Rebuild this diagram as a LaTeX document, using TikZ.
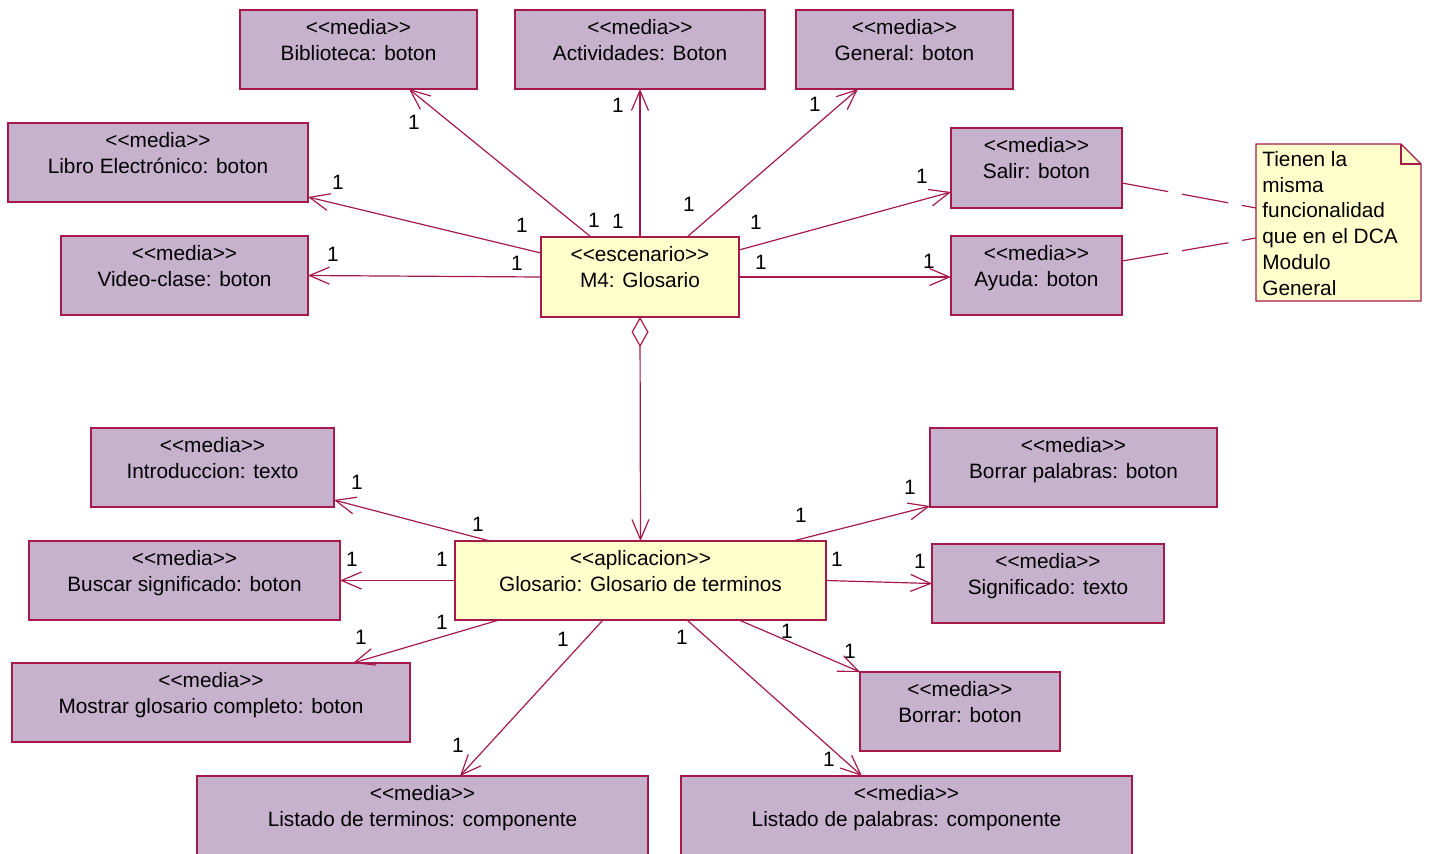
\documentclass[tikz,border=0pt]{standalone}
\usepackage{fontspec}
\setmainfont{Liberation Sans}
\usetikzlibrary{arrows.meta,calc}

\definecolor{mediafill}{RGB}{199,178,206}
\definecolor{edgecol}{RGB}{165,25,75}
\definecolor{yellowfill}{RGB}{255,255,204}

\tikzset{
  box/.style={draw=edgecol, line width=0.6pt, inner sep=0pt, outer sep=0pt},
  media/.style={box, fill=mediafill},
  scen/.style={box, fill=yellowfill},
  txt/.style={inner sep=0pt, font=\fontsize{10.4}{13}\selectfont, anchor=base},
  mult/.style={inner sep=0pt, font=\fontsize{10.4}{13}\selectfont},
  assoc/.style={draw=edgecol, line width=0.6pt, -{Straight Barb[length=10pt,width=8.5pt]}},
  aggr/.style={draw=edgecol, line width=0.6pt,
    {Diamond[open,length=15pt,width=8.5pt]}-{Straight Barb[length=10pt,width=8.5pt]}},
  notelink/.style={draw=edgecol, line width=0.6pt, dash pattern=on 23.5pt off 7pt},
}

% stereotype in angle brackets, kept apart so no guillemet ligature forms
\newcommand\stereo[1]{<\kern0pt<#1>\kern0pt>}

% class box: style, name, left, top, right, bottom, stereotype, title
\newcommand\umlclass[8]{%
  \node[#1, minimum width={(#5-#3)*0.5pt}, minimum height={(#6-#4)*0.5pt}]
    (#2) at ({(#3+#5)/2},{(#4+#6)/2}) {};
  \node[txt] (#2-s) at ($(#2.north)+(0,24.5)$) {\stereo{#7}};
  \node[txt] (#2-n) at ($(#2.north)+(0,50.5)$) {#8};
}

\begin{document}
\begin{tikzpicture}[x=0.5pt, y=-0.5pt]
\useasboundingbox (0,0) rectangle (1431,853);
\clip (0,0) rectangle (1431,853);

% upper group
\umlclass{media}{bib}{240}{10}{477}{89}{media}{Biblioteca: boton}
\umlclass{media}{act}{515}{10}{765}{89}{media}{Actividades: Boton}
\umlclass{media}{gen}{796}{10}{1013}{89}{media}{General: boton}
\umlclass{media}{lib}{8}{123}{308}{202}{media}{Libro Electrónico: boton}
\umlclass{media}{sal}{951}{128}{1122}{208}{media}{Salir: boton}
\umlclass{media}{vid}{61}{236}{308}{315}{media}{Video-clase: boton}
\umlclass{media}{ayu}{951}{236}{1122}{315}{media}{Ayuda: boton}
\umlclass{scen}{m4}{541}{237}{739}{317}{escenario}{M4: Glosario}

% lower group
\umlclass{media}{intro}{91}{428}{334}{507}{media}{Introduccion: texto}
\umlclass{media}{bpal}{930}{428}{1217}{507}{media}{Borrar palabras: boton}
\umlclass{media}{bus}{29}{541}{340}{620}{media}{Buscar significado: boton}
\umlclass{scen}{gl}{455}{541}{826}{620}{aplicacion}{Glosario: Glosario de terminos}
\umlclass{media}{sig}{932}{544}{1164}{623}{media}{Significado: texto}
\umlclass{media}{mos}{12}{663}{410}{742}{media}{Mostrar glosario completo: boton}
\umlclass{media}{bor}{860}{672}{1060}{751}{media}{Borrar: boton}
\umlclass{media}{lter}{197}{776}{648}{870}{media}{Listado de terminos: componente}
\umlclass{media}{lpal}{681}{776}{1132}{870}{media}{Listado de palabras: componente}

% note
\node[inner sep=0pt, outer sep=0pt, minimum width=82.5pt, minimum height=78.5pt]
  (note) at (1338.5,222.5) {};
\draw[box, fill=yellowfill] (note.north west) -- ($(note.north east)+(-20,0)$)
  -- ($(note.north east)+(0,20)$) -- (note.south east) -- (note.south west) -- cycle;
\draw[box] ($(note.north east)+(-20,0)$) -- ++(0,20) -- ++(20,0);
\node[anchor=base west, align=left, inner sep=0pt, font=\fontsize{10.4}{12.85}\selectfont]
  (notetext) at (1262,295) {Tienen la\\misma\\funcionalidad\\que en el DCA\\Modulo\\General};

% associations of the scenario
\draw[assoc] ($(m4.north west)+(50,0)$) -- ($(bib.south west)+(169,0)$);
\draw[assoc] (m4.north) -- (act.south);
\draw[assoc] ($(m4.north west)+(146,0)$) -- ($(gen.south west)+(62,0)$);
\draw[assoc] ($(m4.north west)+(0,16)$) -- ($(lib.south east)+(0,-5)$);
\draw[assoc] (m4.west) -- (vid.east);
\draw[assoc] ($(m4.north east)+(0,13)$) -- ($(sal.south west)+(0,-16)$);
\draw[assoc] (m4.east) -- (m4.east -| ayu.west);
\draw[aggr] (m4.south) -- (gl.north);

% associations of the application
\draw[assoc] ($(gl.north west)+(35,0)$) -- ($(intro.south east)+(0,-7)$);
\draw[assoc] ($(gl.north west)+(338,0)$) -- ($(bpal.south west)+(0,-1)$);
\draw[assoc] (gl.west) -- (bus.east);
\draw[assoc] (gl.east) -- (sig.west);
\draw[assoc] ($(gl.south west)+(44,0)$) -- ($(mos.north east)+(-57,0)$);
\draw[assoc] ($(gl.south west)+(148,0)$) -- ($(lter.north west)+(263,0)$);
\draw[assoc] ($(gl.south west)+(232,0)$) -- ($(lpal.north west)+(181,0)$);
\draw[assoc] ($(gl.south west)+(284,0)$) -- (bor.north west);

% note links
\draw[notelink] ($(sal.north east)+(0,55)$) -- ($(note.north west)+(0,64)$);
\draw[notelink] ($(ayu.north east)+(0,25)$) -- ($(note.north west)+(0,94)$);

% multiplicities
\foreach \n/\x/\y in {
  a1/594/220, a2/414/122, b1/618/221, b2/618/105, c1/689/204, c2/815/104,
  d1/522/225, d2/338/182, e1/517/263, e2/333/254, f1/756/222, f2/922/176,
  g1/761/262, g2/929/261,
  h1/478/524, h2/357/482, i1/801/515, i2/910/487, j1/442/559, j2/352/559,
  k1/837/559, k2/920/561, l1/442/622, l2/361/637, p1/563/639, p2/458/745,
  q1/682/637, q2/829/759, r1/787/631, r2/850/651}
  \node[mult] (m-\n) at (\x,\y) {1};
\end{tikzpicture}
\end{document}
